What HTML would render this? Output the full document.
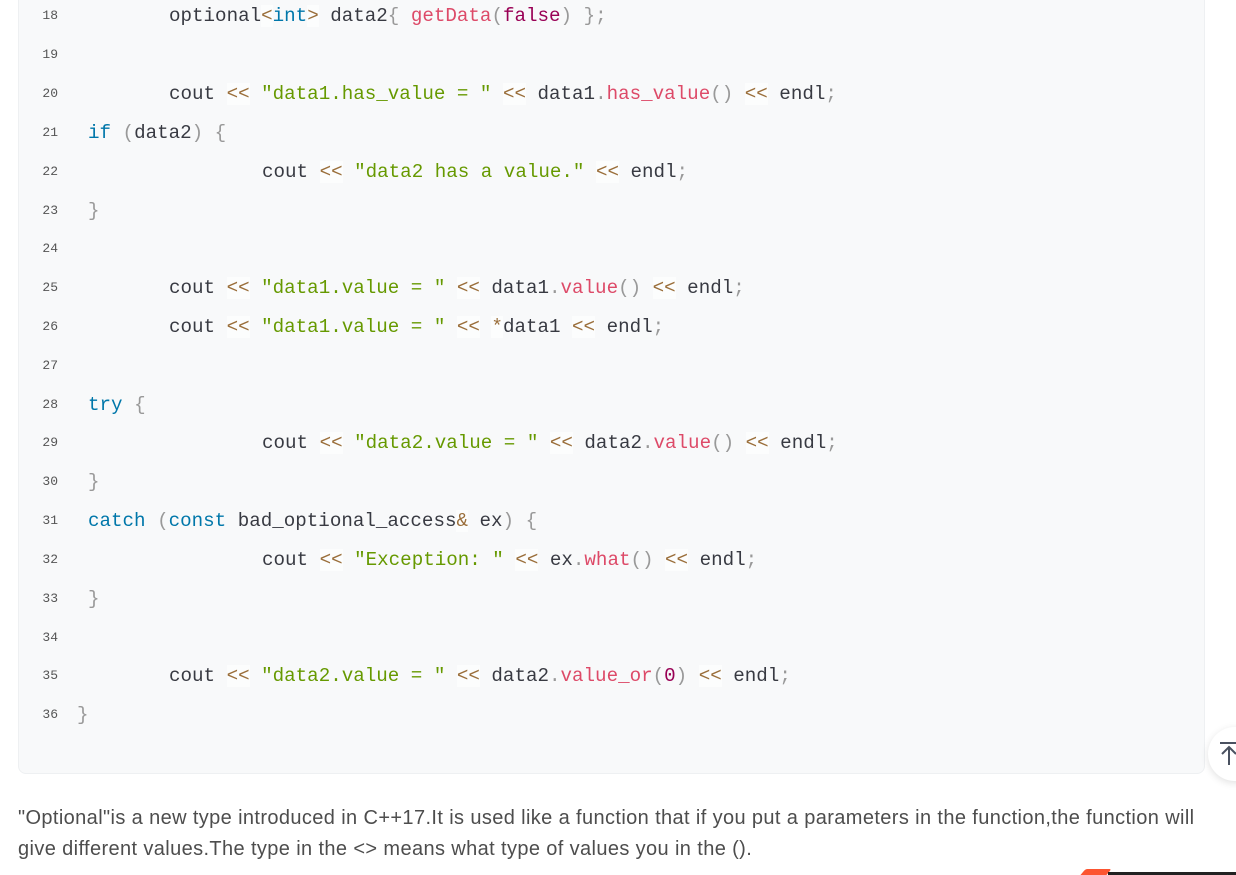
<!DOCTYPE html>
<html><head><meta charset="utf-8"><style>
html,body{margin:0;padding:0;width:1236px;height:875px;overflow:hidden;background:#fff;}
.block{position:absolute;left:18px;top:-20px;width:1187px;height:794px;background:#f8f9fa;border:1px solid #eef0f2;border-radius:8px;box-sizing:border-box;}
.ln{position:absolute;left:30px;width:28px;text-align:right;font:13px "Liberation Mono",monospace;color:#555;}
.c{position:absolute;font:19.2px "Liberation Mono",monospace;color:#383a42;white-space:pre;margin-top:2px;}
.k{color:#0077aa}.s{color:#669900}.f{color:#dd4a68}.o{color:#9a6e3a;background:rgba(255,255,255,.6)}.p{color:#999}.b{color:#990055}
.txt{position:absolute;left:18px;top:803px;width:1208px;font:20px "Liberation Sans",sans-serif;letter-spacing:0.38px;color:#4d4d4d;line-height:31px;}
.top{position:absolute;left:1208px;top:727px;width:54px;height:54px;border-radius:50%;background:#fff;box-shadow:0 2px 8px rgba(0,0,0,.12);}
</style></head><body>
<div class="block"></div>
<div class="ln" style="top:8px">18</div><div class="c" style="left:169px;top:3px">optional<span class="o">&lt;</span><span class="k">int</span><span class="o">&gt;</span> data2<span class="p">{</span> <span class="f">getData</span><span class="p">(</span><span class="b">false</span><span class="p">)</span> <span class="p">};</span></div>
<div class="ln" style="top:47px">19</div>
<div class="ln" style="top:86px">20</div><div class="c" style="left:169px;top:81px">cout <span class="o">&lt;&lt;</span> <span class="s">"data1.has_value = "</span> <span class="o">&lt;&lt;</span> data1<span class="p">.</span><span class="f">has_value</span><span class="p">()</span> <span class="o">&lt;&lt;</span> endl<span class="p">;</span></div>
<div class="ln" style="top:125px">21</div><div class="c" style="left:88px;top:120px"><span class="k">if</span> <span class="p">(</span>data2<span class="p">)</span> <span class="p">{</span></div>
<div class="ln" style="top:164px">22</div><div class="c" style="left:262px;top:159px">cout <span class="o">&lt;&lt;</span> <span class="s">"data2 has a value."</span> <span class="o">&lt;&lt;</span> endl<span class="p">;</span></div>
<div class="ln" style="top:203px">23</div><div class="c" style="left:88px;top:198px"><span class="p">}</span></div>
<div class="ln" style="top:241px">24</div>
<div class="ln" style="top:280px">25</div><div class="c" style="left:169px;top:275px">cout <span class="o">&lt;&lt;</span> <span class="s">"data1.value = "</span> <span class="o">&lt;&lt;</span> data1<span class="p">.</span><span class="f">value</span><span class="p">()</span> <span class="o">&lt;&lt;</span> endl<span class="p">;</span></div>
<div class="ln" style="top:319px">26</div><div class="c" style="left:169px;top:314px">cout <span class="o">&lt;&lt;</span> <span class="s">"data1.value = "</span> <span class="o">&lt;&lt;</span> <span class="o">*</span>data1 <span class="o">&lt;&lt;</span> endl<span class="p">;</span></div>
<div class="ln" style="top:358px">27</div>
<div class="ln" style="top:397px">28</div><div class="c" style="left:88px;top:392px"><span class="k">try</span> <span class="p">{</span></div>
<div class="ln" style="top:435px">29</div><div class="c" style="left:262px;top:430px">cout <span class="o">&lt;&lt;</span> <span class="s">"data2.value = "</span> <span class="o">&lt;&lt;</span> data2<span class="p">.</span><span class="f">value</span><span class="p">()</span> <span class="o">&lt;&lt;</span> endl<span class="p">;</span></div>
<div class="ln" style="top:474px">30</div><div class="c" style="left:88px;top:469px"><span class="p">}</span></div>
<div class="ln" style="top:513px">31</div><div class="c" style="left:88px;top:508px"><span class="k">catch</span> <span class="p">(</span><span class="k">const</span> bad_optional_access<span class="o">&amp;</span> ex<span class="p">)</span> <span class="p">{</span></div>
<div class="ln" style="top:552px">32</div><div class="c" style="left:262px;top:547px">cout <span class="o">&lt;&lt;</span> <span class="s">"Exception: "</span> <span class="o">&lt;&lt;</span> ex<span class="p">.</span><span class="f">what</span><span class="p">()</span> <span class="o">&lt;&lt;</span> endl<span class="p">;</span></div>
<div class="ln" style="top:591px">33</div><div class="c" style="left:88px;top:586px"><span class="p">}</span></div>
<div class="ln" style="top:630px">34</div>
<div class="ln" style="top:668px">35</div><div class="c" style="left:169px;top:663px">cout <span class="o">&lt;&lt;</span> <span class="s">"data2.value = "</span> <span class="o">&lt;&lt;</span> data2<span class="p">.</span><span class="f">value_or</span><span class="p">(</span><span class="b">0</span><span class="p">)</span> <span class="o">&lt;&lt;</span> endl<span class="p">;</span></div>
<div class="ln" style="top:707px">36</div><div class="c" style="left:77px;top:702px"><span class="p">}</span></div>
<div class="top"><svg width="30" height="30" style="position:absolute;left:8px;top:12px"><line x1="4" y1="4" x2="22" y2="4" stroke="#4a5160" stroke-width="2"/><path d="M13 26 V8 M6 15 L13 8 L20 15" stroke="#4a5160" stroke-width="2" fill="none"/></svg></div>
<div class="txt">"Optional"is a new type introduced in C++17.It is used like a function that if you put a parameters in the function,the function will give different values.The type in the &lt;&gt; means what type of values you in the ().</div>
<div style="position:absolute;left:1083px;top:869px;width:26px;height:6px;background:#fc5531;transform:skewX(-40deg);border-radius:2px 2px 0 0"></div>
<div style="position:absolute;left:1108px;top:872px;width:128px;height:3px;background:#222"></div>
</body></html>
